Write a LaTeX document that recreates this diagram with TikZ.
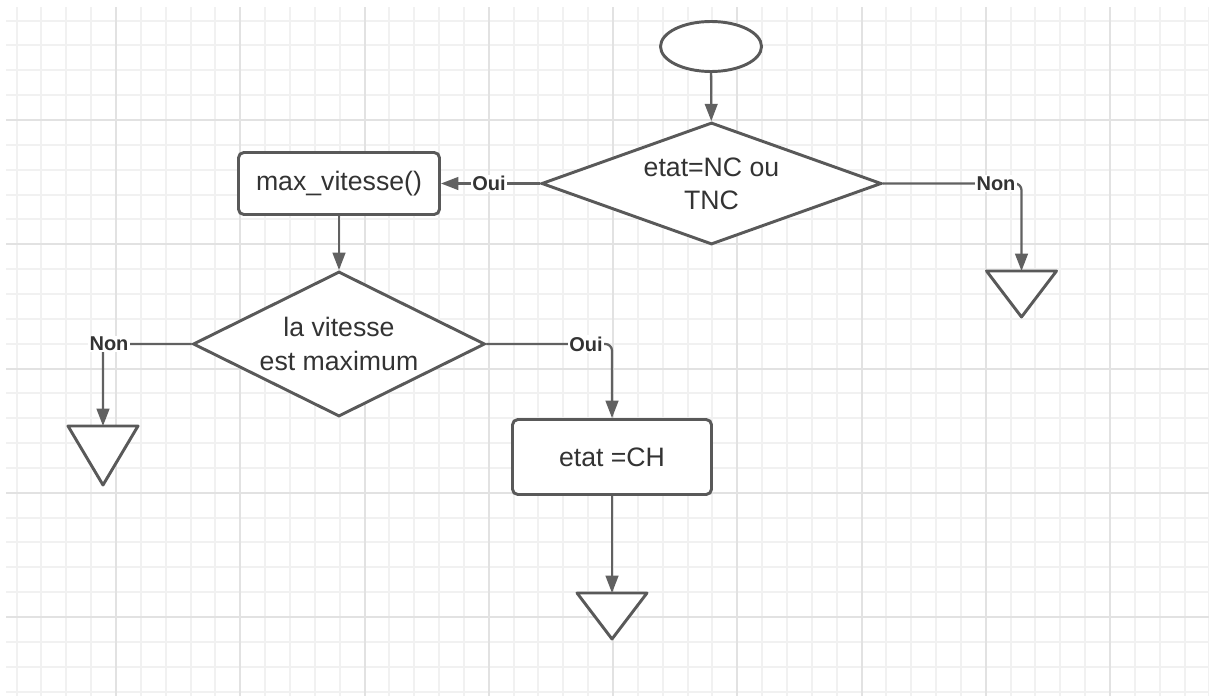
\documentclass[tikz,border=0pt]{standalone}
\usepackage{fontspec}
\setmainfont{Liberation Sans}
\usepackage{tikz}
\usetikzlibrary{shapes.geometric,arrows.meta}

\definecolor{gridminor}{HTML}{F1F1F1}
\definecolor{gridmajor}{HTML}{E2E2E2}
\definecolor{shapeline}{HTML}{595959}
\definecolor{flowline}{HTML}{616161}
\definecolor{txt}{HTML}{333333}

\begin{document}
\begin{tikzpicture}[x=0.75pt,y=-0.75pt,
  box/.style={draw=shapeline,line width=2.2pt,fill=white,rounded corners=4pt,inner sep=0pt,
    text=txt,font=\fontsize{20}{25}\selectfont,align=center},
  test/.style={diamond,draw=shapeline,line width=2.2pt,fill=white,inner sep=0pt,
    text=txt,font=\fontsize{20}{25}\selectfont,align=center},
  term/.style={draw=shapeline,line width=2.2pt,fill=white,line join=round},
  flow/.style={draw=flowline,line width=1.7pt,rounded corners=5pt,-{Triangle[length=13pt,width=9.5pt]}},
  lbl/.style={fill=white,inner sep=1pt,text=txt,font=\fontsize{15}{18}\selectfont\bfseries}]
\useasboundingbox (0,0) rectangle (1209,696);
%  grid paper
\fill[white] (0,0) rectangle (1209,696);
\foreach \i in {0,...,48}
  \draw[gridminor,line width=1.5pt] ({16.6+24.85*\i},7) -- ({16.6+24.85*\i},696);
\foreach \i in {0,...,27}
  \draw[gridminor,line width=1.5pt] (6,{20.6+24.85*\i}) -- (1209,{20.6+24.85*\i});
\foreach \i in {0,...,8}
  \draw[gridmajor,line width=1.5pt] ({116+124.25*\i},7) -- ({116+124.25*\i},696);
\foreach \i in {0,...,4}
  \draw[gridmajor,line width=1.5pt] (6,{120+124.25*\i}) -- (1209,{120+124.25*\i});
%  shapes
\node[ellipse,draw=shapeline,line width=2.2pt,fill=white,minimum width=75.75pt,minimum height=37.5pt] (start) at (711,46.5) {};
\node[test,aspect=2.79,minimum width=255pt,minimum height=91.5pt] (etat) at (711.5,183.5) {etat=NC ou\\TNC};
\node[box,minimum width=150.75pt,minimum height=46.5pt] (maxv) at (339,183.5) {max\_vitesse()};
\node[test,aspect=2.01,minimum width=219pt,minimum height=108.75pt] (vmax) at (339,344) {la vitesse\\est maximum};
\node[box,minimum width=149.25pt,minimum height=56.25pt] (ch) at (612,457) {etat =CH};
%  end triangles
\coordinate (endA) at (103,426);
\coordinate (endB) at (612,593);
\coordinate (endC) at (1021.5,271);
\draw[term] (endA) ++(-35,0) -- ++(70,0) -- ++(-35,59) -- cycle;
\draw[term] (endB) ++(-35,0) -- ++(70,0) -- ++(-35,46) -- cycle;
\draw[term] (endC) ++(-35,0) -- ++(70,0) -- ++(-35,46) -- cycle;
%  connectors
\draw[flow] (start) -- (etat);
\draw[flow] (etat.west) -- (maxv.east);
\draw[flow] (etat.east) -| (endC);
\draw[flow] (maxv) -- (vmax);
\draw[flow] (vmax.west) -| (endA);
\draw[flow] (vmax.east) -| (ch.north);
\draw[flow] (ch) -- (endB);
%  labels
\node[lbl] (ouiA) at (489,183.5) {Oui};
\node[lbl] (nonA) at (996,183.5) {Non};
\node[lbl] (nonB) at (109,344) {Non};
\node[lbl] (ouiB) at (586,344) {Oui};
\end{tikzpicture}
\end{document}
